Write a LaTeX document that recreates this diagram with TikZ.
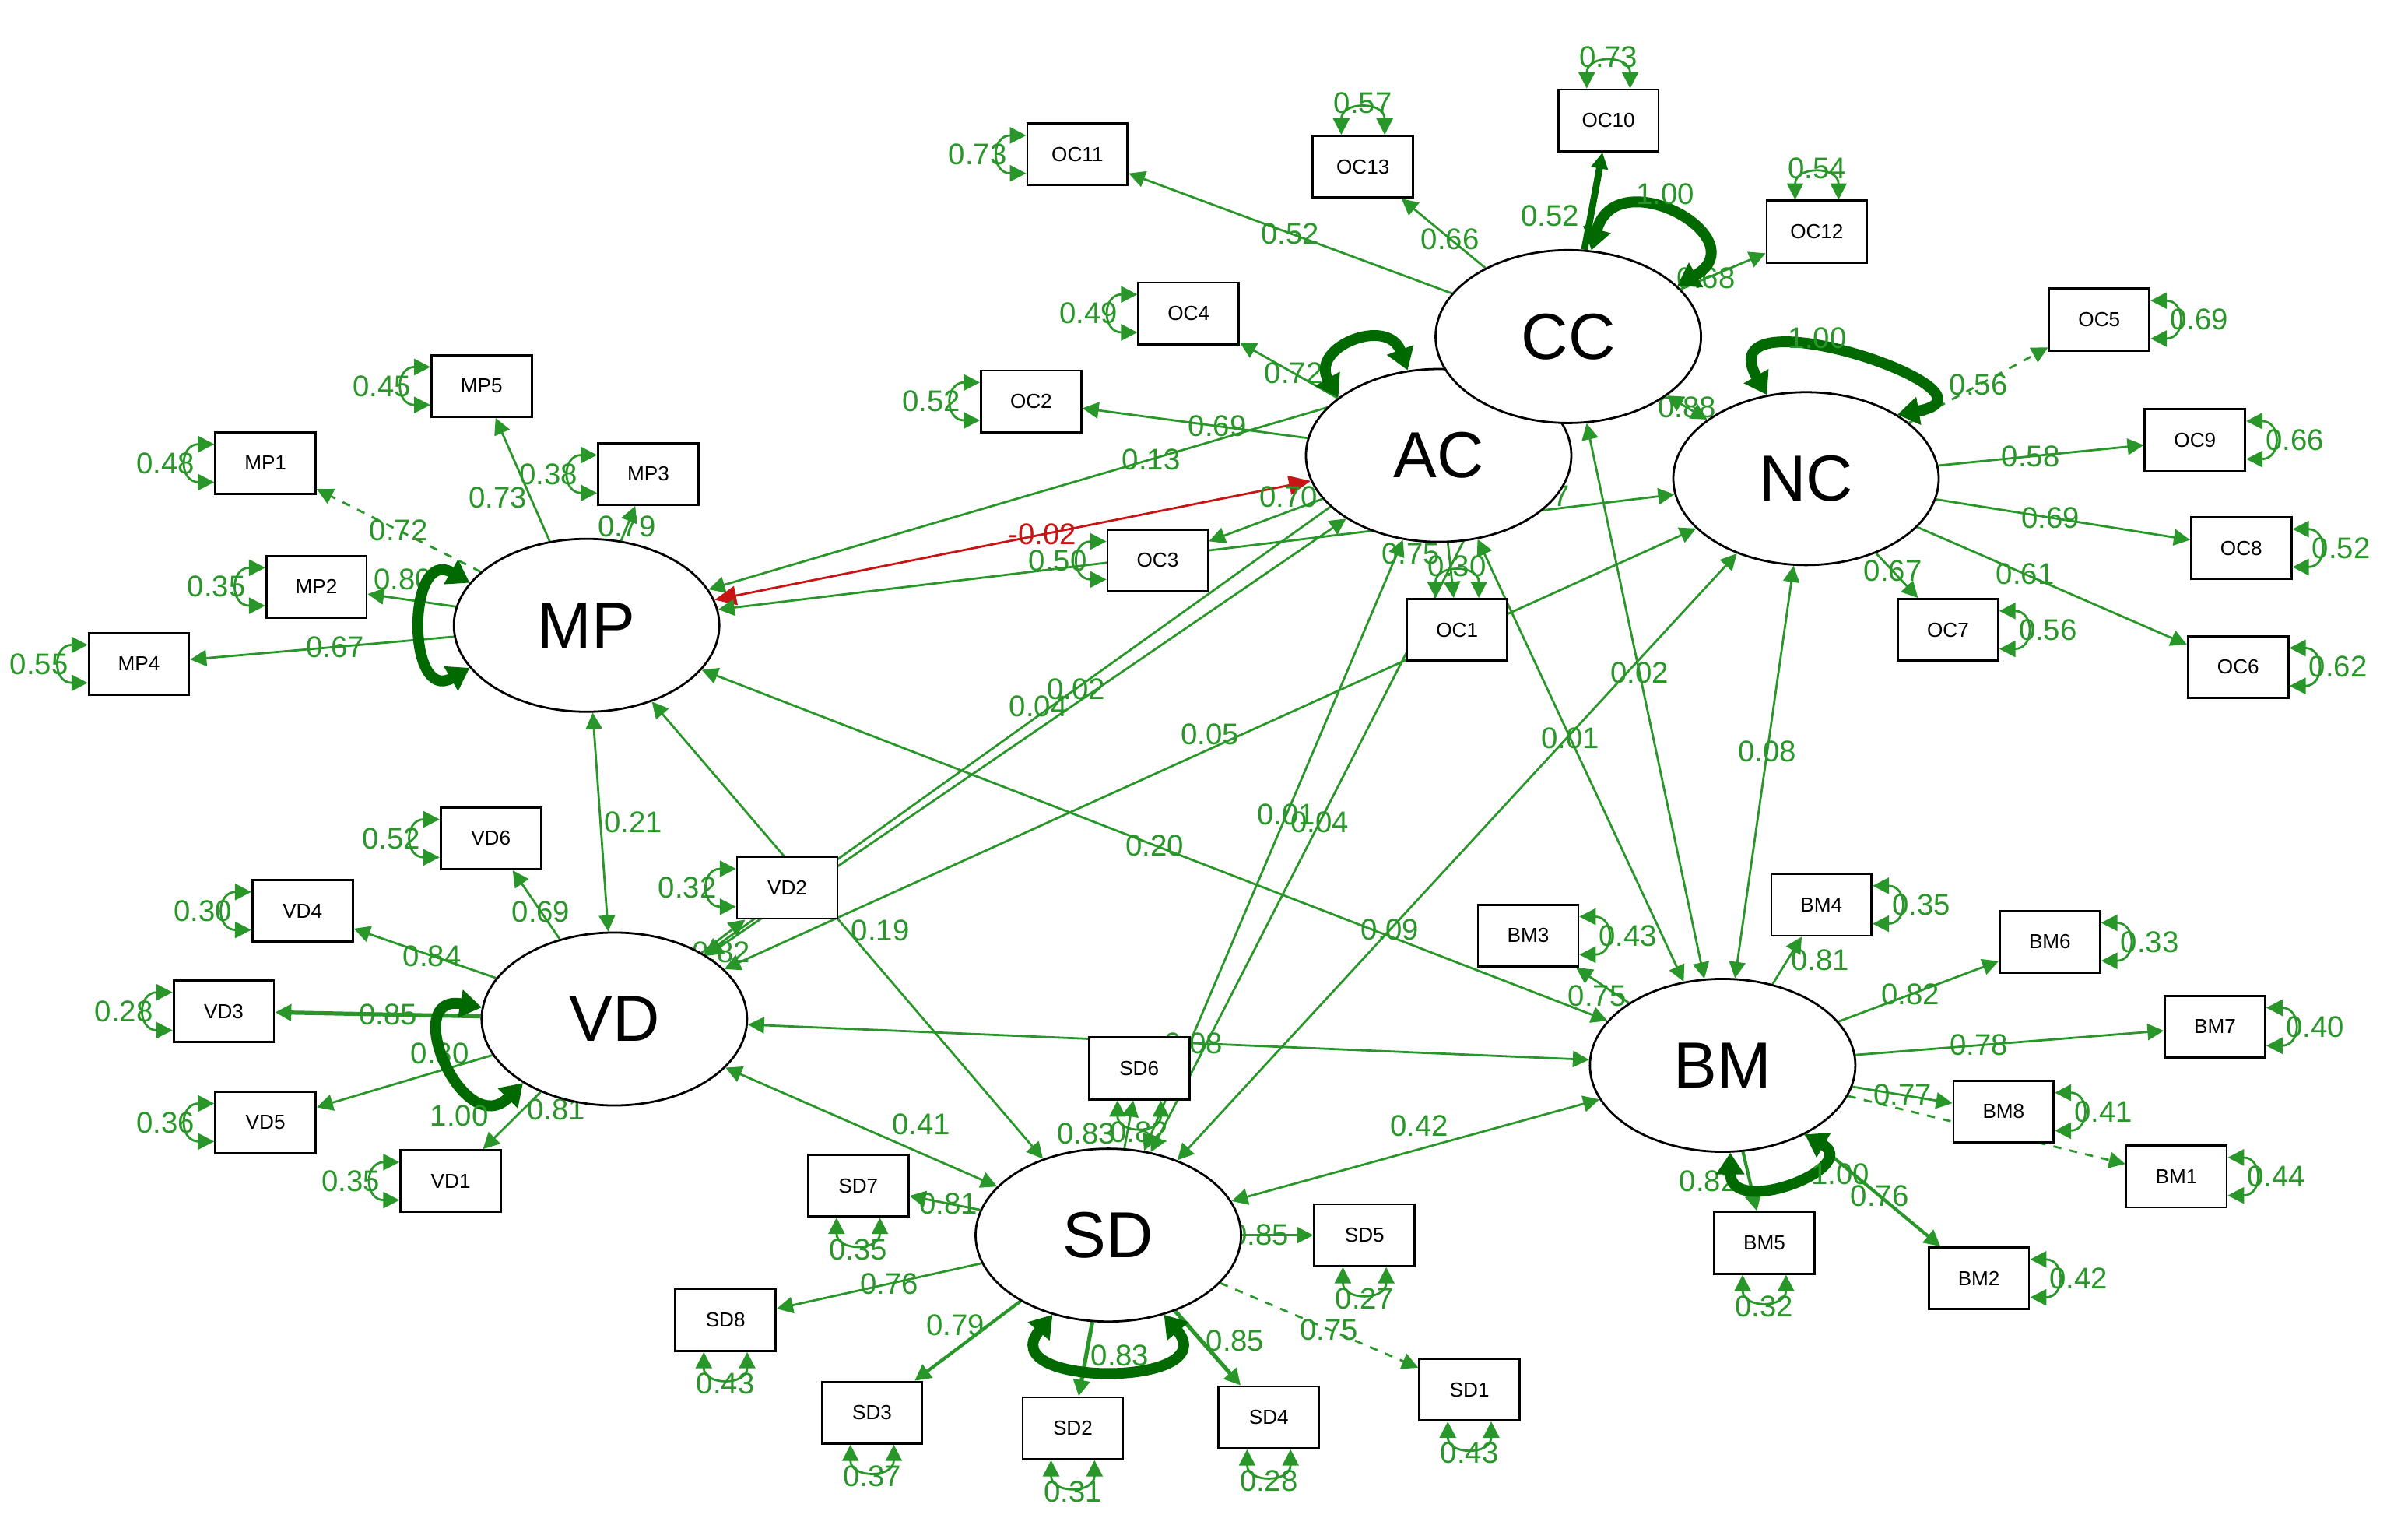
\documentclass[tikz,border=0pt]{standalone}
\usepackage{fontspec}
\setmainfont{Liberation Sans}
\usetikzlibrary{shapes.geometric,arrows.meta}
\definecolor{gr}{RGB}{40,150,40}
\definecolor{dg}{RGB}{0,105,0}
\definecolor{rd}{RGB}{200,20,20}
\pgfdeclarelayer{bg}
\pgfdeclarelayer{paper}
\pgfsetlayers{paper,bg,main}
\tikzset{
 lat/.style={ellipse,draw=black,thick,fill=white,minimum width=3.44cm,minimum height=2.24cm,inner sep=0pt,font=\fontsize{24}{24}\selectfont},
 box/.style={rectangle,draw=black,thick,fill=white,minimum width=1.3cm,minimum height=0.8cm,inner sep=0pt,font=\fontsize{7.5}{8}\selectfont},
 lab/.style={text=gr,font=\fontsize{11}{11}\selectfont,inner sep=1pt},
 tip/.style={-{Triangle[length=6pt,width=6pt]}},
 ld/.style={draw=gr,thick,tip},
 cov/.style={draw=gr,thick,{Triangle[length=6pt,width=6pt]}-{Triangle[length=6pt,width=6pt]}},
 res/.style={draw=gr,thick,{Triangle[length=6pt,width=6pt]}-{Triangle[length=6pt,width=6pt]}},
 var/.style={draw=dg,line width=4pt,{Triangle[length=8pt,width=10pt]}-{Triangle[length=8pt,width=10pt]}},
}
\newcommand\rL[2]{\draw[res] ([yshift=7pt]#1.west) to[out=180,in=180,looseness=2.4] node[lab,left=-4pt]{#2} ([yshift=-7pt]#1.west);}
\newcommand\rR[2]{\draw[res] ([yshift=7pt]#1.east) to[out=0,in=0,looseness=2.4] node[lab,right=-4pt]{#2} ([yshift=-7pt]#1.east);}
\newcommand\rA[2]{\draw[res] ([xshift=-8pt]#1.north) to[out=90,in=90,looseness=2] node[lab,above=-3pt]{#2} ([xshift=8pt]#1.north);}
\newcommand\rB[2]{\draw[res] ([xshift=-8pt]#1.south) to[out=-90,in=-90,looseness=2] node[lab,below=-3pt]{#2} ([xshift=8pt]#1.south);}
\begin{document}
\begin{tikzpicture}[x=0.02cm,y=-0.02cm]
\begin{pgfonlayer}{paper}
\fill[white] (0,0) rectangle (1560,983);
\end{pgfonlayer}
\useasboundingbox (0,0) rectangle (1560,983);
% latents
\node[lat] (AC) at (932,295) {AC};
\node[lat] (CC) at (1016,218) {CC};
\node[lat] (NC) at (1170,310) {NC};
\node[lat] (MP) at (380,405) {MP};
\node[lat] (VD) at (398,660) {VD};
\node[lat] (SD) at (718,800) {SD};
\node[lat] (BM) at (1116,690) {BM};
% boxes
\node[box] (OC11) at (698,100) {OC11};
\node[box] (OC13) at (883,108) {OC13};
\node[box] (OC10) at (1042,78) {OC10};
\node[box] (OC12) at (1177,150) {OC12};
\node[box] (OC4) at (770,203) {OC4};
\node[box] (OC2) at (668,260) {OC2};
\node[box] (OC3) at (750,363) {OC3};
\node[box] (OC1) at (944,408) {OC1};
\node[box] (OC5) at (1360,207) {OC5};
\node[box] (OC9) at (1422,285) {OC9};
\node[box] (OC8) at (1452,355) {OC8};
\node[box] (OC7) at (1262,408) {OC7};
\node[box] (OC6) at (1450,432) {OC6};
\node[box] (MP5) at (312,250) {MP5};
\node[box] (MP1) at (172,300) {MP1};
\node[box] (MP3) at (420,307) {MP3};
\node[box] (MP2) at (205,380) {MP2};
\node[box] (MP4) at (90,430) {MP4};
\node[box] (VD6) at (318,543) {VD6};
\node[box] (VD4) at (196,590) {VD4};
\node[box] (VD3) at (145,655) {VD3};
\node[box] (VD5) at (172,727) {VD5};
\node[box] (VD1) at (292,765) {VD1};
\node[box] (VD2) at (510,575) {VD2};
\node[box] (SD6) at (738,692) {SD6};
\node[box] (SD7) at (556,768) {SD7};
\node[box] (SD8) at (470,855) {SD8};
\node[box] (SD3) at (565,915) {SD3};
\node[box] (SD2) at (695,925) {SD2};
\node[box] (SD4) at (822,918) {SD4};
\node[box] (SD5) at (884,800) {SD5};
\node[box] (SD1) at (952,900) {SD1};
\node[box] (BM3) at (990,606) {BM3};
\node[box] (BM4) at (1180,586) {BM4};
\node[box] (BM6) at (1328,610) {BM6};
\node[box] (BM7) at (1435,665) {BM7};
\node[box] (BM8) at (1298,720) {BM8};
\node[box] (BM1) at (1410,762) {BM1};
\node[box] (BM5) at (1143,805) {BM5};
\node[box] (BM2) at (1282,828) {BM2};
\begin{pgfonlayer}{bg}
% covariances
\draw[cov] (MP) -- node[lab,pos=.6]{0.13} (CC);
\draw[cov,draw=rd,{Triangle[length=8pt,width=7pt,fill=rd]}-{Triangle[length=8pt,width=7pt,fill=rd]}] (MP) -- node[lab,text=rd,pos=.55]{-0.02} (AC);
\draw[cov] (MP) -- node[lab,pos=.86,above]{0.77} (NC);
\draw[cov] (MP) -- node[lab,pos=.5,right]{0.21} (VD);
\draw[cov] (MP) -- node[lab,pos=.5,right]{0.19} (SD);
\draw[cov] (MP) -- node[lab,pos=.5]{0.20} (BM);
\draw[cov] (VD) -- node[lab,pos=.57,left]{0.04} (AC);
\draw[cov] (VD) -- node[lab,pos=.48]{0.02} (CC);
\draw[cov] (VD) -- node[lab,pos=.5,above]{0.05} (NC);
\draw[cov] (VD) -- node[lab,pos=.53]{0.08} (BM);
\draw[cov] (VD) -- node[lab,pos=.6,above right]{0.41} (SD);
\draw[cov] (SD) -- node[lab,pos=.55]{0.01} (AC);
\draw[cov] (SD) -- node[lab,pos=.45]{0.04} (CC);
\draw[cov] (SD) -- node[lab,pos=.38]{0.09} (NC);
\draw[cov] (SD) -- node[lab,pos=.6,above left]{0.42} (BM);
\draw[cov] (BM) -- node[lab,pos=.55]{0.01} (AC);
\draw[cov] (BM) -- node[lab,pos=.55]{0.02} (CC);
\draw[cov] (BM) -- node[lab,pos=.55]{0.08} (NC);
\draw[cov] (CC) -- node[lab,pos=.5]{0.88} (NC);
% loadings
\draw[ld] (CC) -- node[lab,pos=.5]{0.52} (OC11);
\draw[ld] (CC) -- node[lab,pos=.42]{0.66} (OC13);
\draw[ld,draw=dg,line width=2.5pt] (CC) -- node[lab,pos=.35,left=2pt]{0.52} (OC10);
\draw[ld] (CC) -- node[lab,pos=.3]{0.68} (OC12);
\draw[ld] (AC) -- node[lab,pos=.45]{0.72} (OC4);
\draw[ld] (AC) -- node[lab,pos=.4]{0.69} (OC2);
\draw[ld] (AC) -- node[lab,pos=.3,above]{0.70} (OC3);
\draw[ld] (AC) -- node[lab,pos=.2,left=2pt]{0.75} (OC1);
\draw[ld,dashed] (NC) -- node[lab,pos=.5]{0.56} (OC5);
\draw[ld] (NC) -- node[lab,pos=.45]{0.58} (OC9);
\draw[ld] (NC) -- node[lab,pos=.45]{0.69} (OC8);
\draw[ld] (NC) -- node[lab,pos=.4]{0.67} (OC7);
\draw[ld] (NC) -- node[lab,pos=.4]{0.61} (OC6);
\draw[ld] (MP) -- node[lab,pos=.35,left]{0.73} (MP5);
\draw[ld,dashed] (MP) -- node[lab,pos=.5]{0.72} (MP1);
\draw[ld] (MP) -- node[lab,pos=.4]{0.79} (MP3);
\draw[ld] (MP) -- node[lab,pos=.6,above=2pt]{0.80} (MP2);
\draw[ld] (MP) -- node[lab,pos=.45]{0.67} (MP4);
\draw[ld] (VD) -- node[lab,pos=.4]{0.69} (VD6);
\draw[ld] (VD) -- node[lab,pos=.45]{0.84} (VD4);
\draw[ld,line width=1.5pt] (VD) -- node[lab,pos=.45]{0.85} (VD3);
\draw[ld] (VD) -- node[lab,pos=.3,above=1pt]{0.80} (VD5);
\draw[ld] (VD) -- node[lab,pos=.3,right]{0.81} (VD1);
\draw[ld] (VD) -- node[lab,pos=.45,below]{0.82} (VD2);
\draw[ld] (SD) -- node[lab,pos=.3,left=3pt]{0.83} (SD6);
\draw[ld] (SD) -- node[lab,pos=.45]{0.81} (SD7);
\draw[ld] (SD) -- node[lab,pos=.45]{0.76} (SD8);
\draw[ld,line width=1.2pt] (SD) -- node[lab,pos=.3,left]{0.79} (SD3);
\draw[ld,line width=1.5pt] (SD) -- node[lab,pos=.45,right]{0.83} (SD2);
\draw[ld,line width=1.5pt] (SD) -- node[lab,pos=.4,right]{0.85} (SD4);
\draw[ld] (SD) -- node[lab,pos=.25]{0.85} (SD5);
\draw[ld,dashed] (SD) -- node[lab,pos=.55]{0.75} (SD1);
\draw[ld] (BM) -- node[lab,pos=.6,below]{0.75} (BM3);
\draw[ld] (BM) -- node[lab,pos=.5,right]{0.81} (BM4);
\draw[ld] (BM) -- node[lab,pos=.45]{0.82} (BM6);
\draw[ld] (BM) -- node[lab,pos=.4]{0.78} (BM7);
\draw[ld] (BM) -- node[lab,pos=.5]{0.77} (BM8);
\draw[ld,dashed] (BM) -- (BM1);
\draw[ld,line width=1.2pt] (BM) -- node[lab,pos=.5,left=3pt]{0.82} (BM5);
\draw[ld,line width=1.2pt] (BM) -- node[lab,pos=.55]{0.76} (BM2);
\end{pgfonlayer}
% latent variances
\draw[var] (CC.75) to[out=75,in=30,looseness=2.6] node[lab,pos=.45,above]{1.00} (CC.25);
\draw[var] (AC.150) to[out=120,in=110,looseness=2] (AC.110);
\draw[var] (NC.115) to[out=120,in=10,looseness=2.4] node[lab,pos=.5,above left]{1.00} (NC.35);
\draw[var] (MP.160) to[out=150,in=210,looseness=2.2] (MP.200);
\draw[var] (VD.175) to[out=170,in=225,looseness=2.5] node[lab,pos=.85,below left]{1.00} (VD.215);
\draw[var] (SD.235) to[out=230,in=310,looseness=2.2] (SD.305);
\draw[var] (BM.275) to[out=270,in=330,looseness=2.2] node[lab,pos=.6,right]{1.00} (BM.320);
% residuals
\rL{OC11}{0.73}\rA{OC13}{0.57}\rA{OC10}{0.73}\rA{OC12}{0.54}
\rL{OC4}{0.49}\rL{OC2}{0.52}\rL{OC3}{0.50}\rA{OC1}{0.30}
\rR{OC5}{0.69}\rR{OC9}{0.66}\rR{OC8}{0.52}\rR{OC7}{0.56}\rR{OC6}{0.62}
\rL{MP5}{0.45}\rL{MP1}{0.48}\rL{MP3}{0.38}\rL{MP2}{0.35}\rL{MP4}{0.55}
\rL{VD6}{0.52}\rL{VD4}{0.30}\rL{VD3}{0.28}\rL{VD5}{0.36}\rL{VD1}{0.35}\rL{VD2}{0.32}
\rB{SD6}{0.82}\rB{SD7}{0.35}\rB{SD8}{0.43}\rB{SD3}{0.37}\rB{SD2}{0.31}\rB{SD4}{0.28}\rB{SD5}{0.27}\rB{SD1}{0.43}
\rR{BM3}{0.43}\rR{BM4}{0.35}\rR{BM6}{0.33}\rR{BM7}{0.40}\rR{BM8}{0.41}\rR{BM1}{0.44}\rB{BM5}{0.32}\rR{BM2}{0.42}
\end{tikzpicture}
\end{document}
